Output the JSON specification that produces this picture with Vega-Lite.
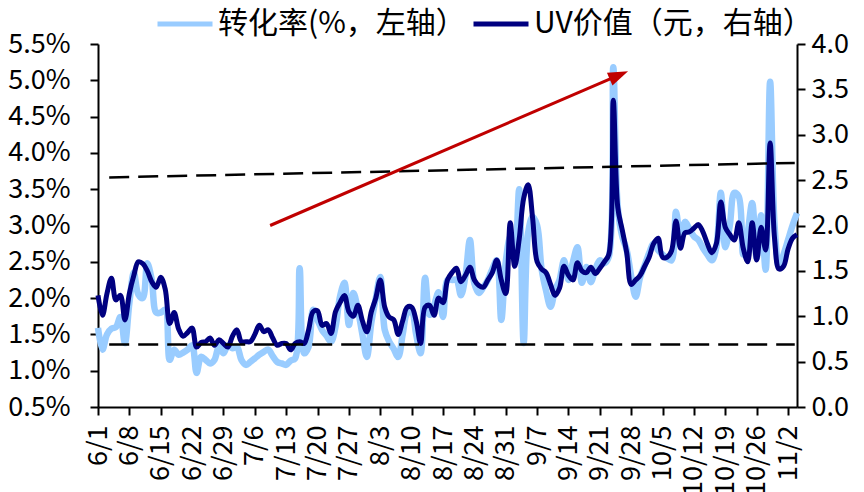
{
  "$schema": "https://vega.github.io/schema/vega-lite/v6.json",
  "width": 699,
  "height": 363,
  "autosize": {"type": "none"},
  "padding": {"left": 98, "top": 44, "right": 67, "bottom": 85},
  "background": "white",
  "config": {
    "view": {"stroke": null},
    "font": "Noto Sans CJK SC",
    "axis": {
      "grid": false,
      "title": null,
      "domainColor": "black",
      "domainWidth": 2,
      "tickColor": "black",
      "tickWidth": 2,
      "tickSize": 8,
      "labelColor": "black",
      "labelFont": "Noto Sans CJK SC",
      "labelFontSize": 27
    }
  },
  "datasets": {
    "main": [
      {"d":"2020-06-01","cr":1.59,"uv":1.23},{"d":"2020-06-02","cr":1.29,"uv":1.01},{"d":"2020-06-03","cr":1.50,"uv":1.25},{"d":"2020-06-04","cr":1.58,"uv":1.42},{"d":"2020-06-05","cr":1.60,"uv":1.18},{"d":"2020-06-06","cr":1.74,"uv":1.23},{"d":"2020-06-07","cr":1.38,"uv":0.96},{"d":"2020-06-08","cr":1.93,"uv":1.25},{"d":"2020-06-09","cr":2.35,"uv":1.45},{"d":"2020-06-10","cr":2.05,"uv":1.60},
      {"d":"2020-06-11","cr":2.00,"uv":1.58},{"d":"2020-06-12","cr":2.48,"uv":1.50},{"d":"2020-06-13","cr":2.25,"uv":1.38},{"d":"2020-06-14","cr":1.80,"uv":1.32},{"d":"2020-06-15","cr":1.80,"uv":1.43},{"d":"2020-06-16","cr":1.84,"uv":1.30},{"d":"2020-06-17","cr":1.15,"uv":0.92},{"d":"2020-06-18","cr":1.29,"uv":1.04},{"d":"2020-06-19","cr":1.22,"uv":0.86},{"d":"2020-06-20","cr":1.25,"uv":0.78},
      {"d":"2020-06-21","cr":1.29,"uv":0.82},{"d":"2020-06-22","cr":1.35,"uv":0.87},{"d":"2020-06-23","cr":0.97,"uv":0.66},{"d":"2020-06-24","cr":1.19,"uv":0.71},{"d":"2020-06-25","cr":1.15,"uv":0.72},{"d":"2020-06-26","cr":1.10,"uv":0.76},{"d":"2020-06-27","cr":1.15,"uv":0.68},{"d":"2020-06-28","cr":1.33,"uv":0.74},{"d":"2020-06-29","cr":1.24,"uv":0.70},{"d":"2020-06-30","cr":1.35,"uv":0.66},
      {"d":"2020-07-01","cr":1.31,"uv":0.78},{"d":"2020-07-02","cr":1.33,"uv":0.85},{"d":"2020-07-03","cr":1.15,"uv":0.72},{"d":"2020-07-04","cr":1.08,"uv":0.72},{"d":"2020-07-05","cr":1.12,"uv":0.72},{"d":"2020-07-06","cr":1.17,"uv":0.80},{"d":"2020-07-07","cr":1.22,"uv":0.90},{"d":"2020-07-08","cr":1.26,"uv":0.83},{"d":"2020-07-09","cr":1.29,"uv":0.85},{"d":"2020-07-10","cr":1.20,"uv":0.76},
      {"d":"2020-07-11","cr":1.12,"uv":0.68},{"d":"2020-07-12","cr":1.10,"uv":0.70},{"d":"2020-07-13","cr":1.08,"uv":0.70},{"d":"2020-07-14","cr":1.14,"uv":0.63},{"d":"2020-07-15","cr":1.17,"uv":0.70},{"d":"2020-07-16","cr":2.41,"uv":0.72},{"d":"2020-07-17","cr":1.24,"uv":0.70},{"d":"2020-07-18","cr":1.33,"uv":0.85},{"d":"2020-07-19","cr":1.84,"uv":1.05},{"d":"2020-07-20","cr":1.70,"uv":1.06},
      {"d":"2020-07-21","cr":1.56,"uv":0.90},{"d":"2020-07-22","cr":1.48,"uv":0.92},{"d":"2020-07-23","cr":1.40,"uv":0.81},{"d":"2020-07-24","cr":1.60,"uv":1.05},{"d":"2020-07-25","cr":2.02,"uv":1.15},{"d":"2020-07-26","cr":2.21,"uv":1.23},{"d":"2020-07-27","cr":1.63,"uv":1.05},{"d":"2020-07-28","cr":2.07,"uv":1.00},{"d":"2020-07-29","cr":1.84,"uv":1.12},{"d":"2020-07-30","cr":1.50,"uv":0.95},
      {"d":"2020-07-31","cr":1.19,"uv":0.83},{"d":"2020-08-01","cr":1.66,"uv":1.05},{"d":"2020-08-02","cr":2.00,"uv":1.20},{"d":"2020-08-03","cr":2.29,"uv":1.40},{"d":"2020-08-04","cr":1.56,"uv":1.10},{"d":"2020-08-05","cr":1.40,"uv":0.99},{"d":"2020-08-06","cr":1.30,"uv":0.96},{"d":"2020-08-07","cr":1.19,"uv":0.80},{"d":"2020-08-08","cr":1.50,"uv":0.95},{"d":"2020-08-09","cr":1.79,"uv":1.10},
      {"d":"2020-08-10","cr":1.81,"uv":1.10},{"d":"2020-08-11","cr":1.50,"uv":0.95},{"d":"2020-08-12","cr":1.24,"uv":0.70},{"d":"2020-08-13","cr":2.28,"uv":1.10},{"d":"2020-08-14","cr":1.77,"uv":1.12},{"d":"2020-08-15","cr":1.90,"uv":1.01},{"d":"2020-08-16","cr":2.08,"uv":1.20},{"d":"2020-08-17","cr":1.74,"uv":1.15},{"d":"2020-08-18","cr":2.25,"uv":1.40},{"d":"2020-08-19","cr":2.25,"uv":1.48},
      {"d":"2020-08-20","cr":2.25,"uv":1.53},{"d":"2020-08-21","cr":2.04,"uv":1.38},{"d":"2020-08-22","cr":2.30,"uv":1.45},{"d":"2020-08-23","cr":2.80,"uv":1.54},{"d":"2020-08-24","cr":2.20,"uv":1.40},{"d":"2020-08-25","cr":2.07,"uv":1.34},{"d":"2020-08-26","cr":2.15,"uv":1.32},{"d":"2020-08-27","cr":2.25,"uv":1.40},{"d":"2020-08-28","cr":2.40,"uv":1.48},{"d":"2020-08-29","cr":2.52,"uv":1.62},
      {"d":"2020-08-30","cr":1.70,"uv":1.40},{"d":"2020-08-31","cr":2.50,"uv":1.25},{"d":"2020-09-01","cr":2.84,"uv":2.03},{"d":"2020-09-02","cr":2.55,"uv":1.55},{"d":"2020-09-03","cr":3.50,"uv":1.85},{"d":"2020-09-04","cr":1.38,"uv":2.30},{"d":"2020-09-05","cr":2.90,"uv":2.45},{"d":"2020-09-06","cr":3.12,"uv":2.08},{"d":"2020-09-07","cr":3.00,"uv":1.60},{"d":"2020-09-08","cr":2.40,"uv":1.52},
      {"d":"2020-09-09","cr":2.10,"uv":1.48},{"d":"2020-09-10","cr":1.88,"uv":1.35},{"d":"2020-09-11","cr":2.11,"uv":1.23},{"d":"2020-09-12","cr":2.25,"uv":1.31},{"d":"2020-09-13","cr":2.52,"uv":1.55},{"d":"2020-09-14","cr":2.25,"uv":1.45},{"d":"2020-09-15","cr":2.50,"uv":1.40},{"d":"2020-09-16","cr":2.70,"uv":1.59},{"d":"2020-09-17","cr":2.21,"uv":1.50},{"d":"2020-09-18","cr":2.43,"uv":1.48},
      {"d":"2020-09-19","cr":2.22,"uv":1.54},{"d":"2020-09-20","cr":2.40,"uv":1.47},{"d":"2020-09-21","cr":2.52,"uv":1.53},{"d":"2020-09-22","cr":2.48,"uv":1.60},{"d":"2020-09-23","cr":2.57,"uv":1.68},{"d":"2020-09-24","cr":5.18,"uv":3.38},{"d":"2020-09-25","cr":3.25,"uv":2.20},{"d":"2020-09-26","cr":2.85,"uv":1.95},{"d":"2020-09-27","cr":2.66,"uv":1.70},{"d":"2020-09-28","cr":2.30,"uv":1.35},
      {"d":"2020-09-29","cr":2.02,"uv":1.40},{"d":"2020-09-30","cr":2.29,"uv":1.45},{"d":"2020-10-01","cr":2.45,"uv":1.55},{"d":"2020-10-02","cr":2.62,"uv":1.65},{"d":"2020-10-03","cr":2.75,"uv":1.80},{"d":"2020-10-04","cr":2.66,"uv":1.86},{"d":"2020-10-05","cr":2.60,"uv":1.65},{"d":"2020-10-06","cr":2.55,"uv":1.65},{"d":"2020-10-07","cr":2.52,"uv":1.72},{"d":"2020-10-08","cr":3.19,"uv":2.05},
      {"d":"2020-10-09","cr":2.80,"uv":1.75},{"d":"2020-10-10","cr":3.05,"uv":1.92},{"d":"2020-10-11","cr":2.95,"uv":1.93},{"d":"2020-10-12","cr":2.85,"uv":1.97},{"d":"2020-10-13","cr":2.80,"uv":2.01},{"d":"2020-10-14","cr":2.69,"uv":1.93},{"d":"2020-10-15","cr":2.60,"uv":1.80},{"d":"2020-10-16","cr":2.52,"uv":1.70},{"d":"2020-10-17","cr":2.70,"uv":1.80},{"d":"2020-10-18","cr":3.45,"uv":2.26},
      {"d":"2020-10-19","cr":2.70,"uv":1.98},{"d":"2020-10-20","cr":3.00,"uv":1.90},{"d":"2020-10-21","cr":3.45,"uv":1.84},{"d":"2020-10-22","cr":3.40,"uv":2.03},{"d":"2020-10-23","cr":2.60,"uv":1.75},{"d":"2020-10-24","cr":2.90,"uv":1.60},{"d":"2020-10-25","cr":3.31,"uv":2.03},{"d":"2020-10-26","cr":2.55,"uv":1.62},{"d":"2020-10-27","cr":3.14,"uv":1.98},{"d":"2020-10-28","cr":2.39,"uv":1.73},
      {"d":"2020-10-29","cr":4.98,"uv":2.91},{"d":"2020-10-30","cr":3.00,"uv":1.85},{"d":"2020-10-31","cr":2.43,"uv":1.52},{"d":"2020-11-01","cr":2.60,"uv":1.55},{"d":"2020-11-02","cr":2.80,"uv":1.74},{"d":"2020-11-03","cr":3.00,"uv":1.86},{"d":"2020-11-04","cr":3.17,"uv":1.90}
    ],
    "trend": [
      {"g":"upper","d":"2020-06-03T12:00:00Z","v":2.53},
      {"g":"upper","d":"2020-11-03T12:00:00Z","v":2.69},
      {"g":"lower","d":"2020-06-03T12:00:00Z","v":0.69},
      {"g":"lower","d":"2020-11-03T12:00:00Z","v":0.69}
    ],
    "arrow": [
      {"d":"2020-07-09T10:00:00Z","v":2.0,"d2":"2020-09-25T00:00:00Z","v2":3.651}
    ],
    "head": [
      {"d":"2020-09-25T06:00:00Z","v":3.656}
    ]
  },
  "encoding": {
    "x": {
      "field": "d", "type": "temporal",
      "scale": {"type": "utc", "domain": [1590969600000, 1604448000000]},
      "axis": {
        "labelExpr": "utcFormat(datum.value, '%-m/%-d')",
        "labelAngle": 270, "labelAlign": "right", "labelBaseline": "middle", "labelPadding": 10,
        "labelOverlap": false, "labelFlush": false, "labelBound": false,
        "values": [1590969600000,1591574400000,1592179200000,1592784000000,1593388800000,1593993600000,1594598400000,1595203200000,1595808000000,1596412800000,1597017600000,1597622400000,1598227200000,1598832000000,1599436800000,1600041600000,1600646400000,1601251200000,1601856000000,1602460800000,1603065600000,1603670400000,1604275200000]
      }
    }
  },
  "layer": [
    {
      "data": {"name": "main"},
      "mark": {"type": "line", "strokeWidth": 6.5, "interpolate": "catmull-rom"},
      "encoding": {
        "y": {
          "field": "cr", "type": "quantitative",
          "scale": {"domain": [0.5, 5.5], "nice": false, "zero": false},
          "axis": {"orient": "left", "values": [0.5,1,1.5,2,2.5,3,3.5,4,4.5,5,5.5], "labelExpr": "format(datum.value, '.1f') + '%'", "labelPadding": 20}
        },
        "color": {
          "datum": "转化率(%，左轴）",
          "scale": {"domain": ["转化率(%，左轴）", "UV价值（元，右轴）"], "range": ["#99CCFF", "#000080"]},
          "legend": {
            "title": null, "orient": "none", "legendX": 57, "legendY": -50,
            "direction": "horizontal", "symbolType": "stroke", "symbolStrokeWidth": 5, "symbolSize": 3025,
            "labelFont": "Noto Sans CJK SC", "labelFontSize": 30, "labelColor": "black", "labelOffset": 3,
            "columnPadding": -3, "labelLimit": 400
          }
        }
      }
    },
    {
      "layer": [
        {
          "data": {"name": "main"},
          "mark": {"type": "line", "strokeWidth": 5, "interpolate": "catmull-rom"},
          "encoding": {
            "y": {
              "field": "uv", "type": "quantitative",
              "scale": {"domain": [0, 4], "nice": false},
              "axis": {"orient": "right", "values": [0,0.5,1,1.5,2,2.5,3,3.5,4], "format": ".1f", "labelPadding": 6}
            },
            "color": {"datum": "UV价值（元，右轴）"}
          }
        },
        {
          "data": {"name": "trend"},
          "mark": {"type": "line", "color": "black", "strokeWidth": 2.5, "strokeDash": [20, 9]},
          "encoding": {
            "y": {"field": "v", "type": "quantitative", "scale": {"domain": [0, 4], "nice": false}},
            "detail": {"field": "g"}
          }
        },
        {
          "data": {"name": "arrow"},
          "mark": {"type": "rule", "color": "#C00000", "strokeWidth": 3},
          "encoding": {
            "x2": {"field": "d2"},
            "y": {"field": "v", "type": "quantitative", "scale": {"domain": [0, 4], "nice": false}},
            "y2": {"field": "v2"}
          }
        },
        {
          "data": {"name": "head"},
          "mark": {"type": "point", "shape": "M-1,-0.7L1,0L-1,0.7Z", "filled": true, "color": "#C00000", "opacity": 1, "size": 400, "angle": 336.7},
          "encoding": {
            "y": {"field": "v", "type": "quantitative", "scale": {"domain": [0, 4], "nice": false}}
          }
        }
      ]
    }
  ],
  "resolve": {"scale": {"y": "independent"}}
}
